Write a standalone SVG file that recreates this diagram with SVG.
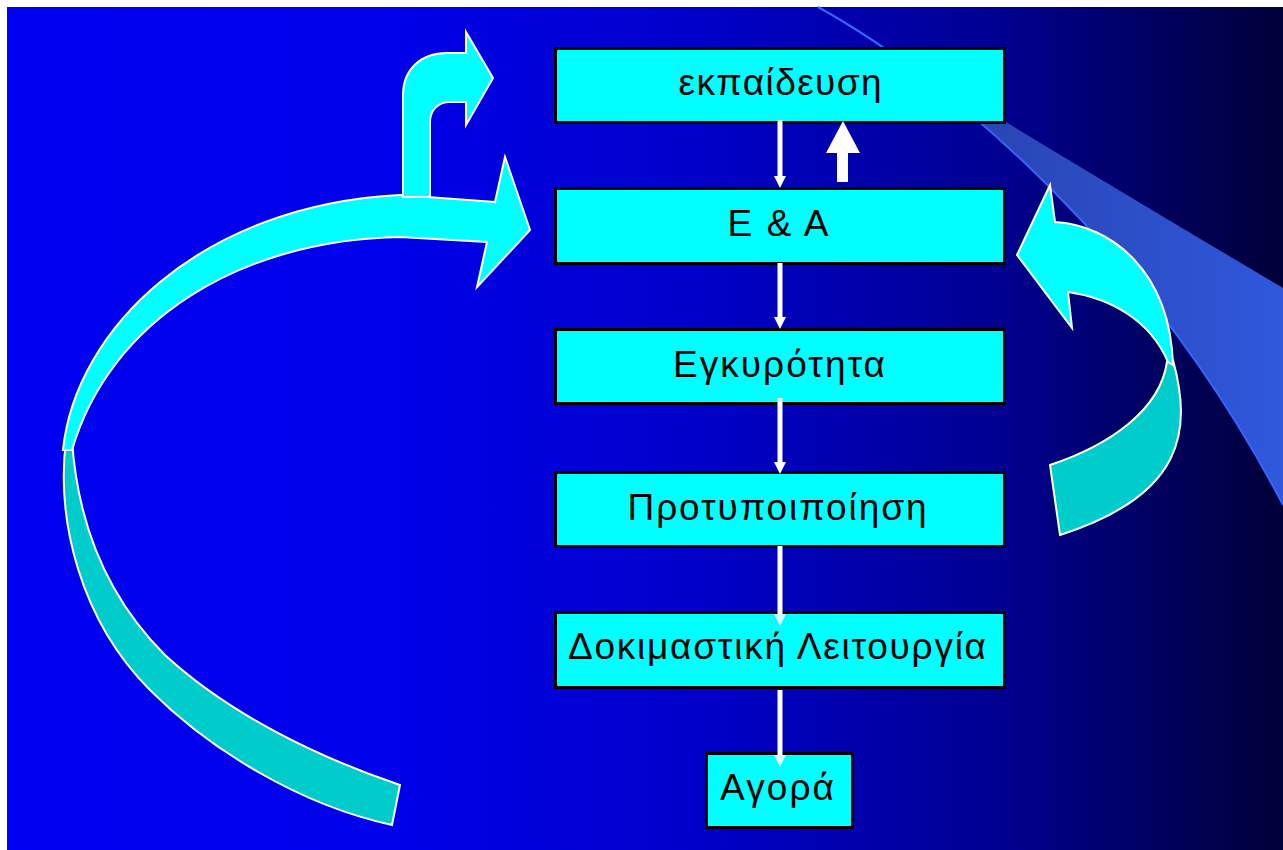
<svg xmlns="http://www.w3.org/2000/svg" width="1283" height="850" viewBox="0 0 1283 850">
<defs>
<linearGradient id="bg" gradientUnits="userSpaceOnUse" x1="7" y1="0" x2="1283" y2="0">
<stop offset="0" stop-color="#0000F2"/>
<stop offset="0.3" stop-color="#0000EA"/>
<stop offset="0.55" stop-color="#0000C8"/>
<stop offset="0.78" stop-color="#000090"/>
<stop offset="1" stop-color="#000038"/>
</linearGradient>
<linearGradient id="beam" gradientUnits="userSpaceOnUse" x1="900" y1="0" x2="1283" y2="0">
<stop offset="0" stop-color="#2640A8"/>
<stop offset="1" stop-color="#3058DC"/>
</linearGradient>
<style>
.box{fill:#00FFFF;stroke:#000;stroke-width:3}
.lbl{font-family:"Liberation Sans",Arial,sans-serif;font-size:37px;fill:#000;text-anchor:middle}
.rib-l{fill:#00FFFF;stroke:#FFFFFF;stroke-width:2;stroke-linejoin:miter}
.rib-d{fill:#00CCCC;stroke:#FFFFFF;stroke-width:2;stroke-linejoin:miter}
.con{stroke:#FFFFFF;stroke-width:5;fill:none}
.head{fill:#FFFFFF}
.headin{fill:#D8FFFF}
</style>
</defs>
<rect x="0" y="0" width="1283" height="850" fill="#FFFFFF"/>
<rect x="7" y="7" width="1276" height="843" fill="url(#bg)"/>
<g id="beam-light">
<path d="M 818 7 Q 1000 120 1283 288 L 1283 505 C 1150 250 950 80 818 7 Z" fill="url(#beam)"/>
<path d="M 818 7 C 950 80 1150 250 1283 505" fill="none" stroke="#3366FF" stroke-width="2"/>
</g>
<g id="left-loop-arrow">
<path class="rib-d" d="M 66 440 C 56 520 80 620 150 690 C 210 750 300 805 392 825 L 400 785 C 320 758 230 715 165 655 C 110 600 78 530 72 440 Z"/>
<path class="rib-l" d="M 63 450 C 75 330 200 205 400 195 L 495 202 L 505 157 L 530 230 L 477 287 L 487 242 L 400 237 C 240 240 110 320 72 450 Z"/>
</g>
<g id="up-turn-arrow">
<path class="rib-l" d="M 403 197 L 403 95 C 403 70 420 53 447 53 L 466 53 L 466 32 L 493 78 L 466 125 L 466 102 L 450 102 C 438 102 430 110 430 122 L 430 197 Z"/>
</g>
<g id="right-loop-arrow">
<path class="rib-d" d="M 1173 360 C 1192 430 1185 495 1060 535 L 1050 465 C 1110 445 1160 410 1167 362 Z"/>
<path class="rib-l" d="M 1055 222 C 1110 225 1170 270 1173 365 L 1168 362 C 1150 320 1110 298 1068 292 L 1072 328 L 1017 255 L 1050 185 Z"/>
</g>
<g id="n1">
<rect class="box" x="555.5" y="48.5" width="449" height="74"/>
<text class="lbl" x="780" y="95" textLength="203" lengthAdjust="spacing">εκπαίδευση</text>
</g>
<g id="n2">
<rect class="box" x="555.5" y="188.5" width="449" height="75"/>
<text class="lbl" x="778" y="236" textLength="101" lengthAdjust="spacing">Ε &amp; Α</text>
</g>
<g id="n3">
<rect class="box" x="555.5" y="329.5" width="449" height="74"/>
<text class="lbl" x="779" y="377" textLength="212" lengthAdjust="spacing">Εγκυρότητα</text>
</g>
<g id="n4">
<rect class="box" x="555.5" y="472.5" width="449" height="74"/>
<text class="lbl" x="777" y="520" textLength="299" lengthAdjust="spacing">Προτυποιποίηση</text>
</g>
<g id="n5">
<rect class="box" x="555.5" y="612.5" width="449" height="75"/>
<text class="lbl" x="777" y="659" textLength="418" lengthAdjust="spacing">Δοκιμαστική Λειτουργία</text>
</g>
<g id="n6">
<rect class="box" x="706.5" y="753.5" width="146" height="74"/>
<text class="lbl" x="777" y="800" textLength="114" lengthAdjust="spacing">Αγορά</text>
</g>
<g id="connectors">
<line class="con" x1="780" y1="120" x2="780" y2="180"/>
<polygon class="head" points="774,176 786,176 780,188"/>
<line class="con" x1="780" y1="263" x2="780" y2="322"/>
<polygon class="head" points="774,317 786,317 780,329"/>
<line class="con" x1="780" y1="398" x2="780" y2="466"/>
<polygon class="head" points="774,462 786,462 780,474"/>
<line class="con" x1="780" y1="546" x2="780" y2="618"/>
<polygon class="headin" points="774,614 786,614 780,626"/>
<line class="con" x1="780" y1="690" x2="780" y2="758"/>
<polygon class="headin" points="774,755 786,755 780,767"/>
<polygon class="head" points="837,182 848,182 848,153 860,153 843,121 826,153 837,153"/>
</g>
</svg>
